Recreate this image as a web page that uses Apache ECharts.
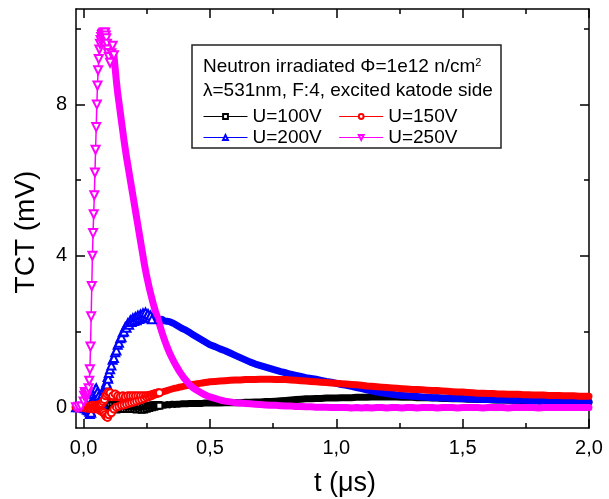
<!DOCTYPE html>
<html>
<head>
<meta charset="utf-8">
<script src="https://cdn.jsdelivr.net/npm/echarts@6/dist/echarts.min.js"></script>
<style>html,body{margin:0;padding:0;background:#fff}#c{width:609px;height:499px}</style>
</head>
<body>
<div id="c"></div>
<script>
// time axis (μs)
const t = [-0.03,-0.02,-0.01,0,
0.0025,0.005,0.0075,0.01,0.0125,0.015,0.0175,0.02,0.0225,0.025,
0.0275,0.03,0.0325,0.035,0.0375,0.04,0.0425,0.045,0.0475,0.05,
0.0525,0.055,0.0575,0.06,0.0625,0.065,0.0675,0.07,0.0725,0.075,
0.0775,0.08,0.0825,0.085,0.0875,0.09,0.0925,0.095,0.0975,0.1,
0.105,0.11,0.115,0.12,0.125,0.13,0.135,0.14,0.145,0.15,
0.155,0.16,0.165,0.17,0.175,0.18,0.185,0.19,0.195,0.2,
0.205,0.21,0.215,0.22,0.225,0.23,0.235,0.24,0.245,0.25,
0.255,0.26,0.265,0.27,0.275,0.28,0.285,0.29,0.295,0.3,
0.31,0.32,0.33,0.34,0.35,0.36,0.37,0.38,0.39,0.4,
0.41,0.42,0.43,0.44,0.45,0.46,0.47,0.48,0.49,0.5,
0.52,0.54,0.56,0.58,0.6,0.62,0.64,0.66,0.68,0.7,
0.72,0.74,0.76,0.78,0.8,0.82,0.84,0.86,0.88,0.9,
0.92,0.94,0.96,0.98,1.0,1.02,1.04,1.06,1.08,1.1,
1.12,1.14,1.16,1.18,1.2,1.22,1.24,1.26,1.28,1.3,
1.32,1.34,1.36,1.38,1.4,1.42,1.44,1.46,1.48,1.5,
1.52,1.54,1.56,1.58,1.6,1.62,1.64,1.66,1.68,1.7,
1.72,1.74,1.76,1.78,1.8,1.82,1.84,1.86,1.88,1.9,
1.92,1.94,1.96,1.98,2.0];

// U=100V (mV)
const v100 = [0,0,0,0,
0,0.01,-0.01,0.02,-0.02,0.01,0,-0.03,0.02,0,
-0.02,0.03,-0.01,0.02,-0.03,0.01,0.03,-0.02,0.02,-0.04,
0.03,-0.02,0.04,-0.03,0.02,-0.04,0.03,-0.02,0.04,-0.05,
0.03,-0.04,0.05,-0.05,0.03,-0.06,0.04,-0.05,0.05,-0.06,
0.04,-0.06,0.05,-0.05,0.04,-0.06,0.05,-0.04,0.04,-0.05,
0.03,-0.05,0.04,-0.04,0.03,-0.05,0.02,-0.04,0.03,-0.05,
0.02,-0.06,0.01,-0.05,0.02,-0.07,0,-0.06,0.02,-0.04,
0.03,-0.02,0.04,0,0.05,0.01,0.05,0.03,0.06,0.04,
0.06,0.05,0.07,0.06,0.08,0.07,0.08,0.08,0.09,0.09,
0.09,0.1,0.1,0.1,0.1,0.1,0.1,0.11,0.11,0.11,
0.11,0.11,0.12,0.12,0.12,0.12,0.13,0.13,0.14,0.14,
0.15,0.15,0.16,0.17,0.18,0.19,0.2,0.21,0.22,0.22,
0.23,0.23,0.24,0.24,0.24,0.25,0.25,0.25,0.26,0.26,
0.26,0.27,0.27,0.27,0.27,0.27,0.27,0.26,0.26,0.26,
0.25,0.25,0.25,0.24,0.24,0.23,0.23,0.22,0.22,0.22,
0.21,0.21,0.2,0.2,0.2,0.19,0.19,0.19,0.18,0.18,
0.18,0.17,0.17,0.17,0.16,0.16,0.16,0.16,0.15,0.15,
0.15,0.15,0.14,0.14,0.14];

// U=150V (mV)
const v150 = [0,0,0,0,
0,0.02,-0.02,0.03,0,-0.03,0.02,0,-0.02,0.03,
0,-0.04,0.02,0.05,-0.03,0,0.04,-0.05,0.03,-0.02,
0.05,-0.04,0.06,-0.05,0.05,-0.08,0.08,-0.1,0.1,-0.12,
0.15,-0.15,0.2,-0.2,0.3,-0.25,0.35,-0.27,0.4,-0.2,
0.38,-0.15,0.3,-0.05,0.35,0,0.3,0.02,0.28,0.05,
0.3,0.06,0.28,0.08,0.3,0.1,0.3,0.12,0.3,0.14,
0.3,0.16,0.3,0.18,0.3,0.2,0.3,0.23,0.3,0.26,
0.31,0.28,0.32,0.31,0.34,0.34,0.36,0.36,0.38,0.38,
0.4,0.42,0.44,0.46,0.48,0.5,0.51,0.53,0.54,0.56,
0.57,0.58,0.6,0.61,0.62,0.63,0.64,0.65,0.66,0.67,
0.68,0.69,0.7,0.71,0.72,0.72,0.73,0.73,0.73,0.74,
0.74,0.74,0.73,0.73,0.73,0.72,0.71,0.7,0.69,0.68,
0.67,0.66,0.65,0.64,0.63,0.62,0.61,0.6,0.59,0.58,
0.56,0.55,0.54,0.53,0.52,0.51,0.5,0.49,0.48,0.47,
0.47,0.46,0.45,0.44,0.44,0.43,0.42,0.41,0.4,0.4,
0.39,0.38,0.37,0.37,0.36,0.36,0.35,0.35,0.34,0.34,
0.34,0.33,0.33,0.32,0.32,0.32,0.31,0.31,0.31,0.3,
0.3,0.3,0.29,0.29,0.29];

// U=200V (mV)
const v200 = [0,0,0,0,
0.02,-0.03,0.04,0,-0.06,0.05,-0.08,-0.02,-0.12,-0.18,
-0.1,-0.15,0.05,0.2,0.1,0.35,0.25,0.45,0.3,0.5,
0.3,0.4,0.15,0.3,0.05,0.2,0.05,0.25,0.1,0.35,
0.2,0.45,0.3,0.55,0.45,0.65,0.6,0.8,0.75,0.9,
1.0,1.1,1.25,1.3,1.45,1.5,1.65,1.7,1.82,1.85,
1.98,2.0,2.12,2.1,2.22,2.18,2.3,2.25,2.35,2.28,
2.38,2.3,2.42,2.33,2.45,2.35,2.48,2.38,2.5,2.4,
2.46,2.36,2.42,2.32,2.4,2.3,2.37,2.3,2.34,2.3,
2.32,2.28,2.27,2.26,2.23,2.2,2.16,2.12,2.08,2.05,
2.01,1.97,1.93,1.89,1.85,1.81,1.77,1.73,1.69,1.65,
1.6,1.54,1.49,1.43,1.37,1.31,1.25,1.19,1.14,1.1,
1.06,1.02,0.98,0.94,0.91,0.87,0.84,0.81,0.78,0.76,
0.74,0.71,0.68,0.66,0.63,0.6,0.58,0.55,0.52,0.49,
0.46,0.43,0.4,0.38,0.36,0.34,0.32,0.31,0.3,0.29,
0.28,0.27,0.26,0.25,0.25,0.24,0.24,0.23,0.23,0.22,
0.22,0.21,0.21,0.2,0.2,0.2,0.19,0.19,0.19,0.18,
0.18,0.18,0.17,0.17,0.17,0.16,0.16,0.16,0.15,0.15,
0.15,0.14,0.14,0.14,0.13];

// U=250V (mV)
const v250 = [0,0.01,0.02,0.15,
0.3,0.4,0.35,0.25,0.3,0.35,0.4,0.5,0.7,1.0,
1.6,2.4,3.2,4.0,4.6,5.1,5.6,6.2,6.8,7.4,
8.0,8.5,8.9,9.2,9.45,9.6,9.7,9.78,9.83,9.86,
9.88,9.9,9.88,9.9,9.82,9.75,9.6,9.45,9.35,9.25,
9.1,9.35,9.55,9.3,8.95,8.6,8.3,8.05,7.8,7.55,
7.3,7.05,6.82,6.6,6.4,6.2,6.0,5.8,5.6,5.4,
5.2,5.0,4.8,4.6,4.4,4.2,4.0,3.8,3.62,3.45,
3.3,3.15,3.01,2.88,2.75,2.63,2.52,2.42,2.31,2.2,
1.98,1.78,1.6,1.44,1.3,1.17,1.05,0.94,0.84,0.75,
0.67,0.59,0.53,0.48,0.44,0.4,0.36,0.33,0.3,0.27,
0.23,0.19,0.16,0.14,0.12,0.11,0.1,0.09,0.08,0.07,
0.06,0.05,0.05,0.04,0.03,0.03,0.02,0.02,0.01,0.01,
0,0,0,-0.01,-0.01,-0.01,-0.01,-0.02,-0.01,-0.02,
-0.01,-0.02,-0.01,-0.01,-0.02,-0.01,-0.01,-0.02,-0.01,-0.01,
-0.02,-0.01,-0.01,-0.01,-0.02,-0.01,-0.01,-0.01,-0.02,-0.01,
-0.01,-0.01,-0.01,-0.02,-0.01,-0.01,-0.01,-0.01,-0.02,-0.01,
-0.01,-0.01,-0.01,-0.01,-0.02,-0.01,-0.01,-0.01,-0.01,-0.01,
-0.01,-0.01,-0.01,-0.01,-0.01];

const names = ['U=100V','U=150V','U=200V','U=250V'];
const xMajor = [0, 0.5, 1.0, 1.5, 2.0];
const xMinor = [0.25, 0.75, 1.25, 1.75];
const yMajor = [0, 4, 8];
const yMinor = [2, 6, 10];

const FF = '"Liberation Sans", Arial, Helvetica, sans-serif';
const colors = {'U=100V':'#000000','U=150V':'#ff0000','U=200V':'#0000ff','U=250V':'#ff00ff'};
const symbols = {'U=100V':'emptyRect','U=150V':'emptyCircle','U=200V':'emptyTriangle','U=250V':'emptyTriangle'};
const rotates = {'U=100V':0,'U=150V':0,'U=200V':0,'U=250V':180};
const sizes = {'U=100V':6,'U=150V':7,'U=200V':8,'U=250V':8};
const splits = {'U=100V':0.3,'U=150V':0.3,'U=200V':0.27,'U=250V':0.12};
const valuesByName = {'U=100V':v100,'U=150V':v150,'U=200V':v200,'U=250V':v250};
const drawOrder = ['U=100V','U=200V','U=150V','U=250V'];

function pairs(vals, from, to) {
  const out = [];
  for (let i = 0; i < t.length; i++) if (t[i] >= from && t[i] <= to) out.push([t[i], vals[i]]);
  return out;
}

const series = [];
drawOrder.forEach(n => {
  const c = colors[n];
  series.push({
    type: 'line', name: n, data: pairs(valuesByName[n], -1, splits[n]),
    symbol: symbols[n], symbolRotate: rotates[n], symbolSize: sizes[n], showAllSymbol: true,
    color: c, lineStyle: {width: 1.5, color: c}, itemStyle: {color: c, borderColor: c, borderWidth: 1.2},
    animation: false, emphasis: {disabled: true}
  });
  series.push({
    type: 'line', name: n, data: pairs(valuesByName[n], splits[n], 3),
    symbol: 'none', showSymbol: false, color: c,
    lineStyle: {width: 7, color: c, join: 'round', cap: 'round'},
    animation: false, emphasis: {disabled: true}
  });
});

const lineStyle = {color: '#000', width: 1.5};
function xAx(pos, ticks, len, labels, line) {
  return {
    type: 'value', position: pos, min: -0.03, max: 2.0,
    axisLine: {show: line, onZero: false, lineStyle},
    axisTick: {show: true, inside: true, length: len, customValues: ticks, lineStyle},
    axisLabel: labels ? {show: true, customValues: ticks, margin: 10, fontSize: 20, color: '#000', fontFamily: FF,
      formatter: v => v.toFixed(1).replace('.', ',')} : {show: false},
    splitLine: {show: false}, minorTick: {show: false}
  };
}
function yAx(pos, ticks, len, labels, line) {
  return {
    type: 'value', position: pos, min: -0.55, max: 10.52,
    axisLine: {show: line, onZero: false, lineStyle},
    axisTick: {show: true, inside: true, length: len, customValues: ticks, lineStyle},
    axisLabel: labels ? {show: true, customValues: ticks, margin: 9, fontSize: 20, color: '#000', fontFamily: FF,
      formatter: v => String(v)} : {show: false},
    splitLine: {show: false}, minorTick: {show: false}
  };
}

const legendCommon = {
  left: 203, itemWidth: 44, itemHeight: 6, itemGap: 17, padding: 0, orient: 'horizontal',
  selectedMode: false, textStyle: {fontSize: 19, color: '#000', fontFamily: FF},
  lineStyle: {width: 1}, itemStyle: {borderWidth: 1}
};

const chart = echarts.init(document.getElementById('c'), null, {renderer: 'canvas'});
chart.setOption({
  backgroundColor: '#fff',
  animation: false,
  grid: {left: 76, right: 20, top: 9, bottom: 71, containLabel: false},
  xAxis: [
    xAx('bottom', xMajor, 9, true, true),
    xAx('bottom', xMinor, 5, false, false),
    xAx('top', xMajor, 9, false, true),
    xAx('top', xMinor, 5, false, false)
  ],
  yAxis: [
    yAx('left', yMajor, 9, true, true),
    yAx('left', yMinor, 5, false, false),
    yAx('right', yMajor, 9, false, true),
    yAx('right', yMinor, 5, false, false)
  ],
  legend: [
    Object.assign({}, legendCommon, {top: 107, data: [names[0], names[1]]}),
    Object.assign({}, legendCommon, {top: 128, data: [names[2], names[3]]})
  ],
  graphic: [
    {type: 'rect', z: 1, shape: {x: 192, y: 45, width: 309, height: 103},
      style: {fill: '#fff', stroke: '#222', lineWidth: 1.5}},
    {type: 'text', z: 5, x: 203, y: 67, style: {
      text: '{a|Neutron irradiated Φ=1e12 n/cm}{s|2}',
      rich: {a: {fontSize: 19, fontFamily: FF, fill: '#000'}, s: {fontSize: 11, fontFamily: FF, fill: '#000', verticalAlign: 'top'}},
      textVerticalAlign: 'middle', fill: '#000'}},
    {type: 'text', z: 5, x: 203, y: 91, style: {
      text: 'λ=531nm, F:4, excited katode side', fontSize: 19, fontFamily: FF, fill: '#000',
      textVerticalAlign: 'middle'}},
    {type: 'text', z: 5, x: 26, y: 232, rotation: Math.PI / 2, style: {
      text: 'TCT (mV)', fontSize: 28, fontFamily: FF, fill: '#000', textAlign: 'center', textVerticalAlign: 'middle'}},
    {type: 'text', z: 5, x: 345, y: 484, style: {
      text: 't (μs)', fontSize: 27, fontFamily: FF, fill: '#000', textAlign: 'center', textVerticalAlign: 'middle'}}
  ],
  series: series
});
</script>
</body>
</html>
